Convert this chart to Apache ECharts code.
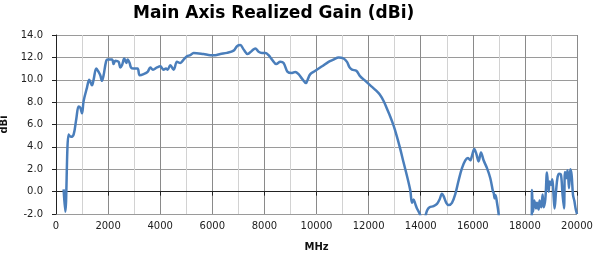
<!DOCTYPE html>
<html>
<head>
<meta charset="utf-8">
<script src="https://cdn.jsdelivr.net/npm/echarts@6/dist/echarts.min.js"></script>
<style>html,body{margin:0;padding:0;background:#fff}#c{width:600px;height:253px}</style>
</head>
<body>
<div id="c"></div>
<script>
const title = 'Main Axis Realized Gain (dBi)';
const xName = 'MHz';
const yName = 'dBi';
const freqMHz = [292,357,484,575,676,779,868,933,998,1060,1190,1278,1382,1443,1547,1635,1700,1765,1827,1919,1981,2150,2211,2276,2403,2468,2533,2622,2699,2749,2826,2879,2979,3133,3210,3363,3517,3620,3723,3877,4004,4131,4222,4284,4388,4516,4645,4772,4898,5026,5155,5282,5666,5923,6115,6307,6564,6818,6948,7075,7203,7357,7524,7651,7778,7908,8035,8161,8292,8457,8610,8737,8891,9060,9186,9313,9443,9597,9659,9762,9954,10211,10464,10656,10848,11040,11170,11270,11363,11528,11681,11873,12065,12257,12422,12576,12706,12833,12960,13090,13217,13343,13474,13601,13666,13727,13792,13857,13958,14050,14150,14240,14340,14494,14625,14725,14817,14878,14982,15070,15200,15330,15455,15585,15712,15815,15903,15968,16056,16133,16222,16314,16414,16545,16672,16775,16800,16840,16870,16929,16992,17050,18200,18260,18273,18311,18361,18426,18464,18526,18564,18630,18680,18718,18783,18848,18910,18948,19002,19052,19102,19140,19194,19255,19321,19386,19447,19501,19539,19589,19639,19693,19743,19793,19846,19896,19946,20000];
const gainDBi = [0.2,-1.8,5.1,4.9,5.1,6.5,7.6,7.5,7.0,8.1,9.3,10.0,9.5,10.0,11.0,10.7,10.4,9.9,10.4,11.6,11.8,11.8,11.4,11.7,11.6,11.1,11.3,11.9,11.5,11.8,11.5,11.1,11.0,11.0,10.4,10.5,10.7,11.1,10.9,11.1,11.2,10.9,11.0,10.9,11.3,10.9,11.6,11.5,11.8,12.1,12.2,12.4,12.3,12.2,12.2,12.3,12.4,12.6,13.0,13.1,12.7,12.3,12.6,12.8,12.5,12.4,12.4,12.2,11.8,11.4,11.6,11.5,10.7,10.6,10.7,10.5,10.1,9.7,10.0,10.5,10.8,11.2,11.6,11.8,12.0,11.9,11.6,11.1,10.9,10.8,10.3,9.9,9.5,9.1,8.7,8.1,7.4,6.7,5.9,4.9,3.8,2.6,1.4,0.1,-1.0,-0.7,-1.1,-1.5,-1.95,-2.5,-2.4,-1.7,-1.4,-1.3,-1.1,-0.7,-0.2,-0.4,-1.0,-1.2,-1.0,-0.2,1.0,2.1,2.8,3.0,2.8,3.2,3.8,3.4,2.7,3.5,2.8,2.1,1.2,0.0,-0.1,-0.6,-0.3,-1.0,-2.0,-3.5,-4.0,-3.0,0.15,-1.8,-0.8,-1.5,-1.0,-1.6,-0.8,-1.4,-0.25,-1.4,-0.7,1.7,0.0,0.9,0.6,1.1,-0.4,-1.5,0.0,1.3,1.6,1.5,-0.3,-1.5,1.75,1.2,1.9,0.3,2.0,1.5,-0.3,-0.8,-1.5,-2.0];
const xMin = 0, xMax = 20000, xStep = 2000;
const yMin = -2, yMax = 14, yStep = 2;

const chart = echarts.init(document.getElementById('c'), null, {renderer: 'canvas'});
const font = 'DejaVu Sans';
chart.setOption({
  animation: false,
  backgroundColor: '#fff',
  title: {
    text: title, left: 128, top: 0,
    textStyle: {fontFamily: font, fontSize: 17, fontWeight: 'bold', color: '#000'}
  },
  grid: {left: 56, right: 23, top: 35, bottom: 39, containLabel: false, outerBoundsMode: 'none'},
  xAxis: {
    type: 'value', min: xMin, max: xMax, interval: xStep,
    name: xName, nameLocation: 'middle', nameGap: 28,
    nameTextStyle: {fontFamily: font, fontSize: 10, fontWeight: 'bold', color: '#111'},
    axisLine: {show: true, lineStyle: {color: '#222', width: 1}},
    axisTick: {show: true, length: 4, inside: false, lineStyle: {color: '#222'}},
    axisLabel: {fontFamily: font, fontSize: 10, color: '#222', margin: 7,
      formatter: v => String(v)},
    splitLine: {show: true, lineStyle: {color: '#8a8a8a', width: 1}},
    minorTick: {show: false, splitNumber: 2},
    minorSplitLine: {show: true, lineStyle: {color: '#d2d2d2', width: 1}}
  },
  yAxis: {
    type: 'value', min: yMin, max: yMax, interval: yStep,
    name: yName, nameLocation: 'middle', nameGap: 44, nameRotate: 90,
    nameTextStyle: {fontFamily: font, fontSize: 10, fontWeight: 'bold', color: '#111'},
    axisLine: {show: true, lineStyle: {color: '#222', width: 1}},
    axisTick: {show: true, length: 4, inside: false, lineStyle: {color: '#222'}},
    axisLabel: {fontFamily: font, fontSize: 10, color: '#222', margin: 13,
      formatter: v => v.toFixed(1)},
    splitLine: {show: true, lineStyle: {color: '#9a9a9a', width: 1}}
  },
  series: [{
    type: 'line',
    data: freqMHz.map((f, i) => [f, gainDBi[i]]),
    showSymbol: false, symbol: 'none',
    smooth: 0.35, clip: true,
    lineStyle: {color: '#4a7ebb', width: 2.5},
    itemStyle: {color: '#4a7ebb'}
  }]
});
</script>
</body>
</html>
